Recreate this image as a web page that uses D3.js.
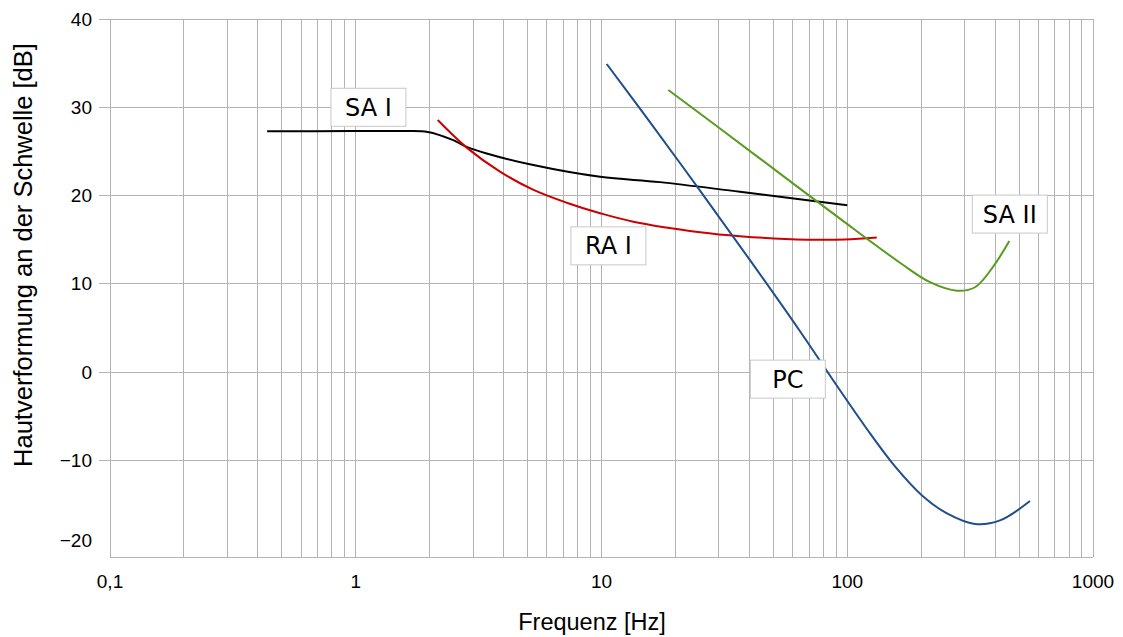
<!DOCTYPE html>
<html>
<head>
<meta charset="utf-8">
<script src="https://cdn.jsdelivr.net/npm/d3@7"></script>
<style>
  html, body { margin: 0; padding: 0; background: #ffffff; }
  svg { display: block; }
</style>
</head>
<body>
<svg id="chart" width="1123" height="637"></svg>
<script>
// Detection thresholds of the four mechanoreceptor types vs. vibration frequency
const yTicks = [40, 30, 20, 10, 0, -10, -20];
const xTickLabels = [[0.1, "0,1"], [1, "1"], [10, "10"], [100, "100"], [1000, "1000"]];

// [frequency in Hz, threshold in dB]
const saI = [
  [0.436, 27.27], [0.966, 27.3], [1.514, 27.3], [1.963, 27.21], [2.494, 26.28], [2.828, 25.52],
  [3.41, 24.77], [5.278, 23.45], [9.87, 22.12], [17.3, 21.52], [36.6, 20.42], [100, 18.91]
];
const raI = [
  [2.155, 28.55], [2.828, 25.43], [3.864, 22.71], [5.263, 20.67], [7.218, 19.19], [9.87, 18.0],
  [13.47, 17.04], [25.17, 15.85], [36.6, 15.4], [68.4, 15.0], [97.9, 15.02], [131.9, 15.25]
];
const pc = [
  [10.5, 34.9], [15.75, 28.32], [25.17, 20.56], [40.2, 12.68], [64.23, 4.63], [93.4, -2.06],
  [123.8, -6.94], [156.4, -10.68], [201.5, -13.97], [254.6, -16.01], [331, -17.2],
  [418.3, -16.8], [554, -14.61]
];
const saII = [
  [18.7, 31.95], [30.35, 27.59], [53.25, 22.48], [93.4, 17.38], [163.9, 12.39], [217.2, 10.18],
  [279.6, 9.22], [331, 9.61], [391.9, 11.92], [456.5, 14.86]
];

const seriesNames = ["SA I", "RA I", "PC", "SA II"];
const seriesData = [saI, raI, pc, saII];
const seriesColors = ["#000000", "#cc0000", "#1f4e8c", "#579d1c"];
// label anchor points (frequency, dB) for the series captions
const labelAnchors = [[1.126, 30.0], [10.67, 14.3], [57.3, -0.8], [458.6, 17.9]];

const svg = d3.select("#chart");
const plotLeft = 110, plotRight = 1093, plotTop = 19, plotBottom = 557;

const x = d3.scaleLog().domain([0.1, 1000]).range([plotLeft, plotRight]);
const y = d3.scaleLinear().domain([-20.95, 40]).range([plotBottom, plotTop]);

const grid = svg.append("g");
// vertical grid lines at every 1..9 multiple of each decade
const minorX = [];
for (let e = -1; e < 3; e++) {
  for (let m = 1; m <= 9; m++) minorX.push(m * Math.pow(10, e));
}
minorX.push(1000);
grid.selectAll("line.v").data(minorX).join("line")
  .attr("x1", d => x(d)).attr("x2", d => x(d))
  .attr("y1", plotTop).attr("y2", plotBottom)
  .attr("stroke", "#b3b3b3").attr("stroke-width", 1).attr("shape-rendering", "crispEdges");
// horizontal grid lines
grid.selectAll("line.h").data(yTicks.filter(v => v > -20)).join("line")
  .attr("x1", plotLeft - 11).attr("x2", plotRight)
  .attr("y1", d => y(d)).attr("y2", d => y(d))
  .attr("stroke", "#b3b3b3").attr("stroke-width", 1).attr("shape-rendering", "crispEdges");
// frame
grid.append("line").attr("x1", plotLeft).attr("x2", plotRight).attr("y1", plotBottom).attr("y2", plotBottom)
  .attr("stroke", "#b3b3b3").attr("shape-rendering", "crispEdges");
grid.append("line").attr("x1", plotLeft).attr("x2", plotLeft).attr("y1", plotTop).attr("y2", plotBottom)
  .attr("stroke", "#b3b3b3").attr("shape-rendering", "crispEdges");

// y tick labels
svg.append("g").selectAll("text").data(yTicks).join("text")
  .attr("x", 92)
  .attr("y", d => d === -20 ? y(d) - 8 : y(d))
  .attr("dy", "0.35em")
  .attr("text-anchor", "end")
  .attr("font-family", "Liberation Sans, Arial, sans-serif")
  .attr("font-size", 19)
  .attr("fill", "#000")
  .text(d => d < 0 ? "\u2212" + Math.abs(d) : String(d));

// x tick labels
svg.append("g").selectAll("text").data(xTickLabels).join("text")
  .attr("x", d => x(d[0]))
  .attr("y", 581)
  .attr("dy", "0.35em")
  .attr("text-anchor", "middle")
  .attr("font-family", "Liberation Sans, Arial, sans-serif")
  .attr("font-size", 19)
  .attr("fill", "#000")
  .text(d => d[1]);

// axis titles
svg.append("text")
  .attr("x", 592).attr("y", 622).attr("dy", "0.35em")
  .attr("text-anchor", "middle")
  .attr("font-family", "Liberation Sans, Arial, sans-serif")
  .attr("font-size", 23.5)
  .text("Frequenz [Hz]");
svg.append("text")
  .attr("transform", "translate(23, 255) rotate(-90)")
  .attr("dy", "0.35em")
  .attr("text-anchor", "middle")
  .attr("font-family", "Liberation Sans, Arial, sans-serif")
  .attr("font-size", 25.5)
  .text("Hautverformung an der Schwelle [dB]");

// curves
const line = d3.line().x(d => x(d[0])).y(d => y(d[1])).curve(d3.curveCatmullRom.alpha(0.5));
svg.append("g").selectAll("path").data(seriesData).join("path")
  .attr("d", line)
  .attr("fill", "none")
  .attr("stroke", (d, i) => seriesColors[i])
  .attr("stroke-width", 2);

// series captions
const cap = svg.append("g").selectAll("g").data(seriesNames).join("g")
  .attr("transform", (d, i) => `translate(${x(labelAnchors[i][0])}, ${y(labelAnchors[i][1])})`);
cap.append("rect")
  .attr("x", -37.5).attr("y", -19).attr("width", 75).attr("height", 38)
  .attr("fill", "#ffffff").attr("stroke", "#c8c8c8").attr("stroke-width", 1);
cap.append("text")
  .attr("text-anchor", "middle").attr("dy", "0.36em")
  .attr("font-family", "DejaVu Sans, sans-serif")
  .attr("font-size", 24)
  .attr("fill", "#000")
  .text(d => d);
</script>
</body>
</html>
